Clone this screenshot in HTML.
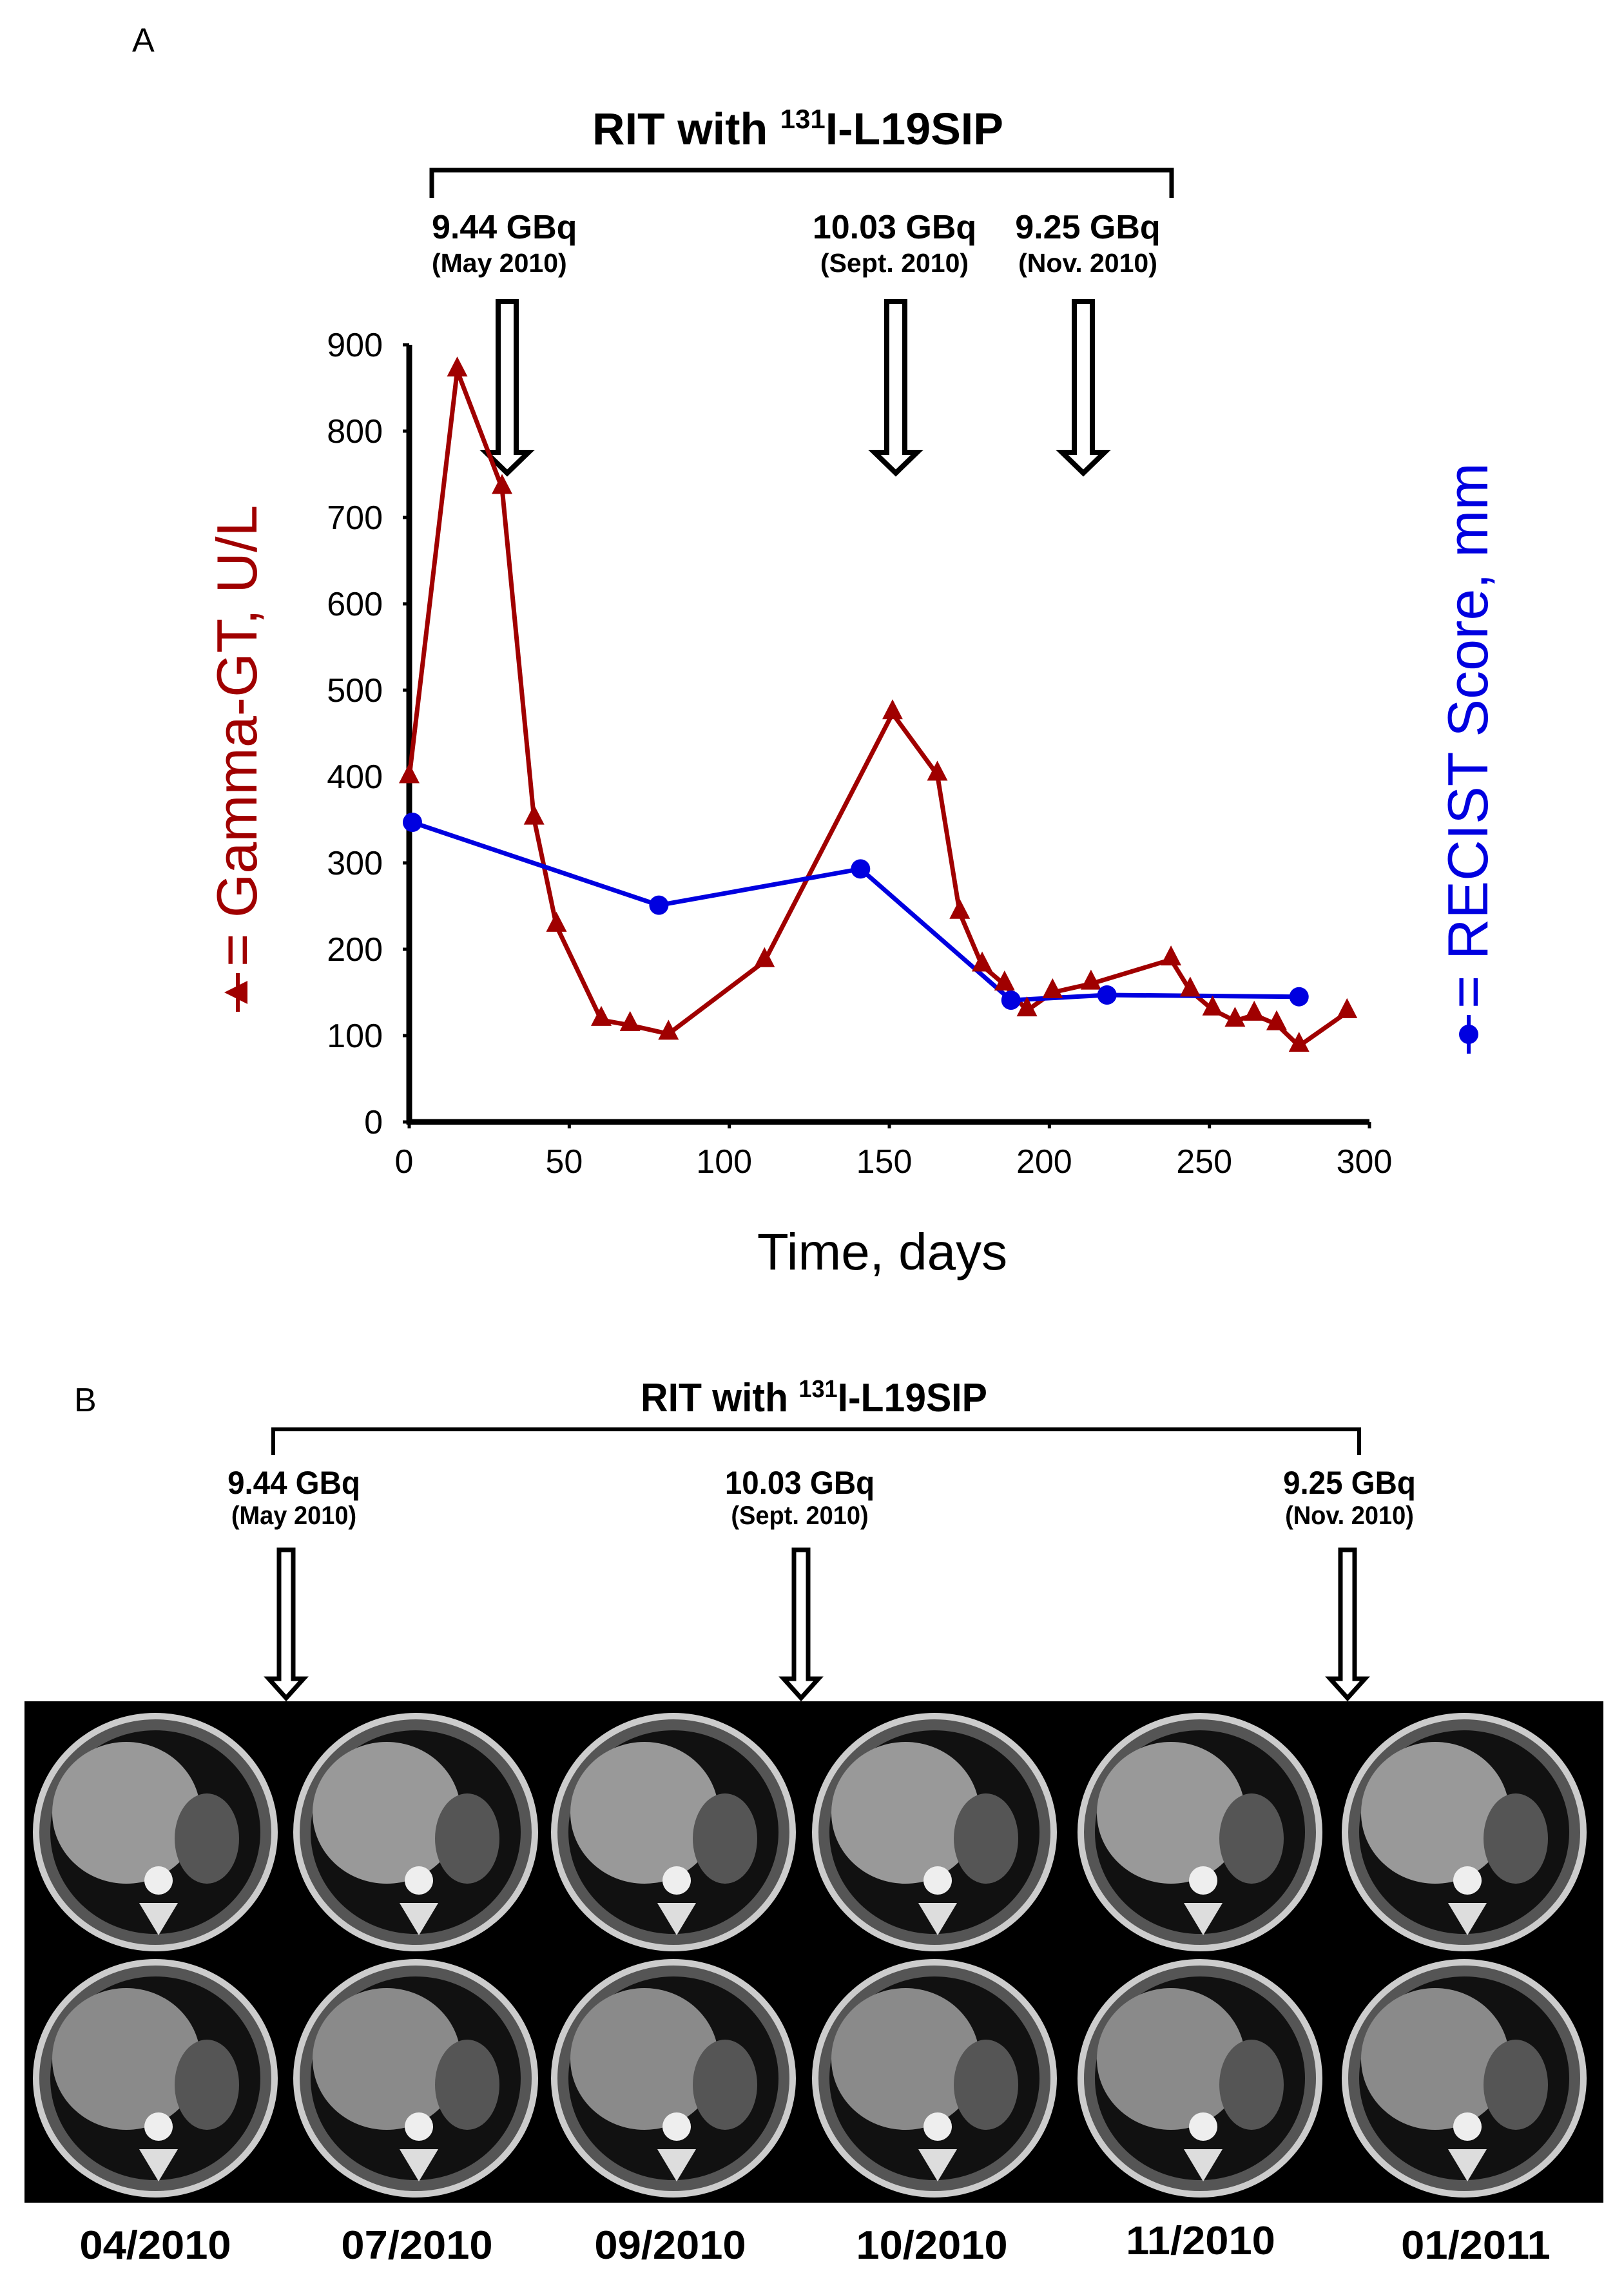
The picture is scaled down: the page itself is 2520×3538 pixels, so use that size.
<!DOCTYPE html>
<html><head><meta charset="utf-8"><style>
html,body{margin:0;padding:0;background:#fff}
svg{display:block}
text{font-family:"Liberation Sans",sans-serif}
.b{font-weight:bold}
</style></head><body>
<svg id="fig" width="2520" height="3538" viewBox="0 0 2520 3538" xmlns="http://www.w3.org/2000/svg">
<defs>
<g id="arrowA"><path d="M-14,0 L14,0 L14,234 L33,234 L0,266 L-33,234 L-14,234 Z" fill="#fff" stroke="#000" stroke-width="8"/></g>
<g id="arrowB"><path d="M-11,0 L11,0 L11,200 L27,200 L0,230 L-27,200 L-11,200 Z" fill="#fff" stroke="#000" stroke-width="7"/></g>
</defs>
<text x="205" y="80" font-size="52">A</text>
<text x="1238" y="224" font-size="70" class="b" text-anchor="middle">RIT with <tspan font-size="42" dy="-25">131</tspan><tspan dy="25">I-L19SIP</tspan></text>
<path d="M670,307 L670,264 L1818,264 L1818,307" fill="none" stroke="#000" stroke-width="7"/>
<g><text x="670" y="370" font-size="52" class="b">9.44 GBq</text><text x="670" y="422" font-size="41" class="b">(May 2010)</text></g>
<g><text x="1388" y="370" font-size="52" class="b" text-anchor="middle">10.03 GBq</text><text x="1388" y="422" font-size="41" class="b" text-anchor="middle">(Sept. 2010)</text></g>
<g><text x="1688" y="370" font-size="52" class="b" text-anchor="middle">9.25 GBq</text><text x="1688" y="422" font-size="41" class="b" text-anchor="middle">(Nov. 2010)</text></g>
<use href="#arrowA" x="787" y="468"/>
<use href="#arrowA" x="1390" y="468"/>
<use href="#arrowA" x="1681" y="468"/>
<g id="chart"></g>
<text x="1369" y="1970" font-size="80" text-anchor="middle">Time, days</text>
<g transform="translate(398,1150) rotate(-90)">
<line x1="-420" y1="-29" x2="-360" y2="-29" stroke="#a00000" stroke-width="6"/>
<path d="M-390,-50 L-372,-14 L-408,-14 Z" fill="#a00000"/>
<text x="-350" y="0" font-size="88" fill="#a00000">= Gamma-GT, U/L</text></g>
<g transform="translate(2308,1165) rotate(-90)">
<line x1="-470" y1="-29" x2="-410" y2="-29" stroke="#0000e0" stroke-width="6"/>
<circle cx="-440" cy="-29" r="15" fill="#0000e0"/>
<text x="-400" y="0" font-size="88" fill="#0000e0">= RECIST Score, mm</text></g>

<text x="115" y="2190" font-size="52">B</text>
<g transform="translate(1263,2190) scale(0.95,1)"><text x="0" y="0" font-size="62" class="b" text-anchor="middle">RIT with <tspan font-size="38" dy="-22">131</tspan><tspan dy="22">I-L19SIP</tspan></text></g>
<path d="M424,2258 L424,2218 L2109,2218 L2109,2258" fill="none" stroke="#000" stroke-width="6"/>
<g transform="translate(456,0) scale(0.95,1)"><text x="0" y="2318" font-size="50" class="b" text-anchor="middle">9.44 GBq</text><text x="0" y="2365" font-size="40" class="b" text-anchor="middle">(May 2010)</text></g>
<g transform="translate(1241,0) scale(0.95,1)"><text x="0" y="2318" font-size="50" class="b" text-anchor="middle">10.03 GBq</text><text x="0" y="2365" font-size="40" class="b" text-anchor="middle">(Sept. 2010)</text></g>
<g transform="translate(2094,0) scale(0.95,1)"><text x="0" y="2318" font-size="50" class="b" text-anchor="middle">9.25 GBq</text><text x="0" y="2365" font-size="40" class="b" text-anchor="middle">(Nov. 2010)</text></g>
<use href="#arrowB" x="444" y="2405"/>
<use href="#arrowB" x="1243" y="2405"/>
<use href="#arrowB" x="2091" y="2405"/>
<rect x="38" y="2640" width="2450" height="778" fill="#000"/>
<g id="scans"></g>
<g id="dates"></g>
</svg>
<script>
const NS='http://www.w3.org/2000/svg';
const days=[0,15,29,39,46,60,69,81,111,151,165,172,179,186,193,201,213,238,244,251,258,264,271,278,293];
const ggt=[399,870,734,351,227,118,112,102,186,473,402,242,181,159,129,150,160,188,152,130,117,124,113,88,127];
const recistDays=[1,78,141,188,218,278];
const recist=[347,251,293,141,147,145];
const yTicks=[0,100,200,300,400,500,600,700,800,900];
const xTicks=[0,50,100,150,200,250,300];
const scanDates=['04/2010','07/2010','09/2010','10/2010','11/2010','01/2011'];

const X=d=>635+d*(2125-635)/300;
const Y=v=>1741-v*(1741-535)/900;
function mk(tag,attrs,parent){const e=document.createElementNS(NS,tag);for(const k in attrs)e.setAttribute(k,attrs[k]);parent.appendChild(e);return e;}
const ch=document.getElementById('chart');
const ya=mk('line',{x1:X(0),y1:Y(0)+4,x2:X(0),y2:Y(900),stroke:'#000','stroke-width':9},ch);


const xa=mk('line',{x1:X(0)-4,y1:Y(0),x2:X(300),y2:Y(0),stroke:'#000','stroke-width':9},ch);


yTicks.forEach(v=>{
  mk('line',{x1:X(0)-10,y1:Y(v),x2:X(0),y2:Y(v),stroke:'#000','stroke-width':5},ch);
  const t=mk('text',{x:594,y:Y(v)+18,'font-size':52,'text-anchor':'end'},ch);t.textContent=v;
  
  
});
xTicks.forEach(v=>{
  mk('line',{x1:X(v),y1:Y(0),x2:X(v),y2:Y(0)+10,stroke:'#000','stroke-width':5},ch);
  const t=mk('text',{x:X(v)-8,y:1820,'font-size':52,'text-anchor':'middle'},ch);t.textContent=v;
  
  
});
const rl=mk('polyline',{points:days.map((d,i)=>X(d)+','+Y(ggt[i])).join(' '),fill:'none',stroke:'#a00000','stroke-width':7},ch);


const bl=mk('polyline',{points:recistDays.map((d,i)=>X(d)+','+Y(recist[i])).join(' '),fill:'none',stroke:'#0000e0','stroke-width':7},ch);


days.forEach((d,i)=>{const x=X(d),y=Y(ggt[i]);
  const p=mk('path',{d:`M${x},${y-22} L${x+16},${y+9} L${x-16},${y+9} Z`,fill:'#a00000'},ch);
  
  
});
recistDays.forEach((d,i)=>{
  const c=mk('circle',{cx:X(d),cy:Y(recist[i]),r:15,fill:'#0000e0'},ch);
  
  
});
const sc=document.getElementById('scans');
const cx=[241,645,1045,1450,1862,2272];
cx.forEach((x,i)=>{
  [[2843,185,180],[3225,185,180]].forEach((r,j)=>{
    const g=mk('g',{},sc);
    
    
    mk('ellipse',{cx:x,cy:r[0],rx:r[1],ry:r[2],fill:'#555',stroke:'#ccc','stroke-width':10},g);
    mk('ellipse',{cx:x,cy:r[0],rx:r[1]-22,ry:r[2]-22,fill:'#111'},g);
    mk('ellipse',{cx:x-45,cy:r[0]-30,rx:115,ry:110,fill:j?'#8a8a8a':'#999'},g);
    mk('ellipse',{cx:x+80,cy:r[0]+10,rx:50,ry:70,fill:'#555'},g);
    mk('circle',{cx:x+5,cy:r[0]+75,r:22,fill:'#eee'},g);
    mk('path',{d:`M${x-25},${r[0]+110} L${x+35},${r[0]+110} L${x+5},${r[0]+160} Z`,fill:'#ddd'},g);
  });
});
const dg=document.getElementById('dates');
const dx=[241,647,1040,1446,1863,2290];
scanDates.forEach((s,i)=>{
  const t=mk('text',{x:0,y:0,'font-size':62,'font-weight':'bold','text-anchor':'middle',transform:`translate(${dx[i]},${i==4?3498:3505}) scale(1.05,1)`},dg);
  t.textContent=s;
  
  
});
</script>
</body></html>
